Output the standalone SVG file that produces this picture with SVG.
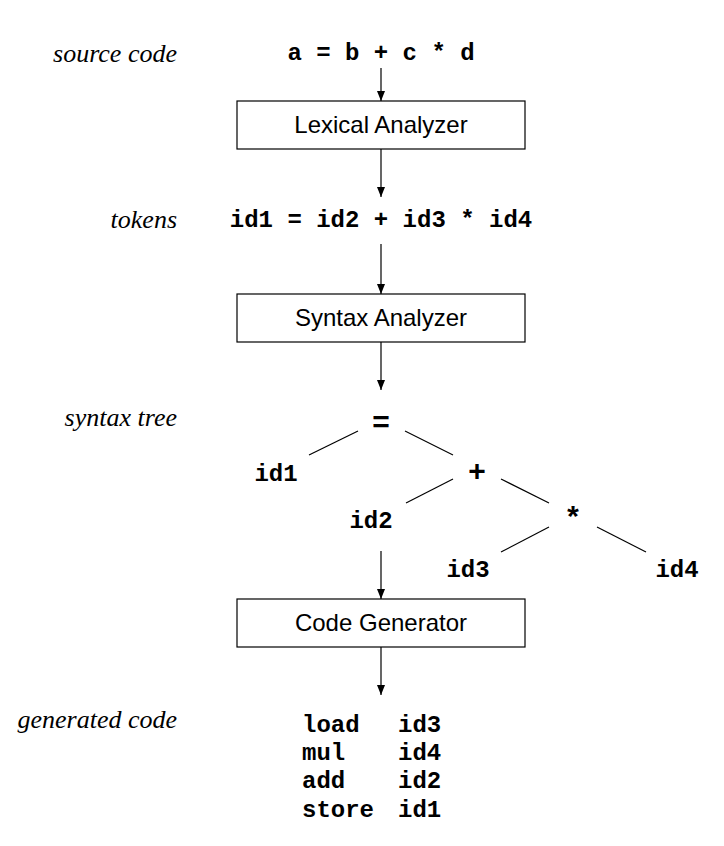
<svg xmlns="http://www.w3.org/2000/svg" width="724" height="846" viewBox="0 0 724 846">
<defs>
<marker id="ah" markerWidth="10" markerHeight="10" refX="10" refY="5" orient="auto" markerUnits="userSpaceOnUse">
<path d="M0,1 L10,5 L0,9 Z" fill="#000"/>
</marker>
<style>
.lbl{font-family:"Liberation Serif","Times New Roman",serif;font-style:italic;font-size:26px;fill:#000;text-anchor:end}
.code{font-family:"Liberation Mono","Courier New",monospace;font-weight:bold;font-size:24px;fill:#000}
.op{font-family:"Liberation Mono","Courier New",monospace;font-weight:bold;font-size:30px;fill:#000;text-anchor:middle}
.box{fill:#fff;stroke:#000;stroke-width:1.2}
.bt{font-family:"Liberation Sans",Arial,sans-serif;font-size:24px;fill:#000;text-anchor:middle}
.arr{stroke:#000;stroke-width:1.2;fill:none;marker-end:url(#ah)}
.edge{stroke:#000;stroke-width:1.2;fill:none}
</style>
</defs>
<rect width="724" height="846" fill="#fff"/>
<g id="labels">
<text class="lbl" x="177" y="62">source code</text>
<text class="lbl" x="177" y="228">tokens</text>
<text class="lbl" x="177" y="426">syntax tree</text>
<text class="lbl" x="177" y="728">generated code</text>
</g>
<g id="source">
<text class="code" x="381" y="60" text-anchor="middle">a = b + c * d</text>
</g>
<g id="lexical">
<rect class="box" x="237" y="101" width="288" height="48"/>
<text class="bt" x="381" y="133">Lexical Analyzer</text>
</g>
<g id="tokens">
<text class="code" x="381" y="227" text-anchor="middle">id1 = id2 + id3 * id4</text>
</g>
<g id="syntax">
<rect class="box" x="237" y="294" width="288" height="48"/>
<text class="bt" x="381" y="326">Syntax Analyzer</text>
</g>
<g id="tree">
<text class="op" x="381" y="432">=</text>
<text class="code" x="276" y="481" text-anchor="middle">id1</text>
<text class="op" x="477" y="481">+</text>
<text class="code" x="371" y="528" text-anchor="middle">id2</text>
<text class="op" x="573" y="528">*</text>
<text class="code" x="468" y="577" text-anchor="middle">id3</text>
<text class="code" x="677" y="577" text-anchor="middle">id4</text>
</g>
<g id="codegen">
<rect class="box" x="237" y="599" width="288" height="48"/>
<text class="bt" x="381" y="631">Code Generator</text>
</g>
<g id="generated">
<text class="code" x="302" y="732">load</text>
<text class="code" x="398" y="732">id3</text>
<text class="code" x="302" y="760">mul</text>
<text class="code" x="398" y="760">id4</text>
<text class="code" x="302" y="788">add</text>
<text class="code" x="398" y="788">id2</text>
<text class="code" x="302" y="817">store</text>
<text class="code" x="398" y="817">id1</text>
</g>
<g id="connectors">
<line class="arr" x1="381" y1="68" x2="381" y2="101"/>
<line class="arr" x1="381" y1="149" x2="381" y2="197"/>
<line class="arr" x1="381" y1="244" x2="381" y2="294"/>
<line class="arr" x1="381" y1="342" x2="381" y2="390"/>
<line class="arr" x1="381" y1="551" x2="381" y2="599"/>
<line class="arr" x1="381" y1="647" x2="381" y2="695"/>
<line class="edge" x1="358" y1="431" x2="309" y2="455"/>
<line class="edge" x1="405" y1="431" x2="453" y2="455"/>
<line class="edge" x1="453" y1="479" x2="406" y2="503"/>
<line class="edge" x1="501" y1="479" x2="549" y2="503"/>
<line class="edge" x1="549" y1="527" x2="501" y2="552"/>
<line class="edge" x1="597" y1="527" x2="646" y2="552"/>
</g>
</svg>
